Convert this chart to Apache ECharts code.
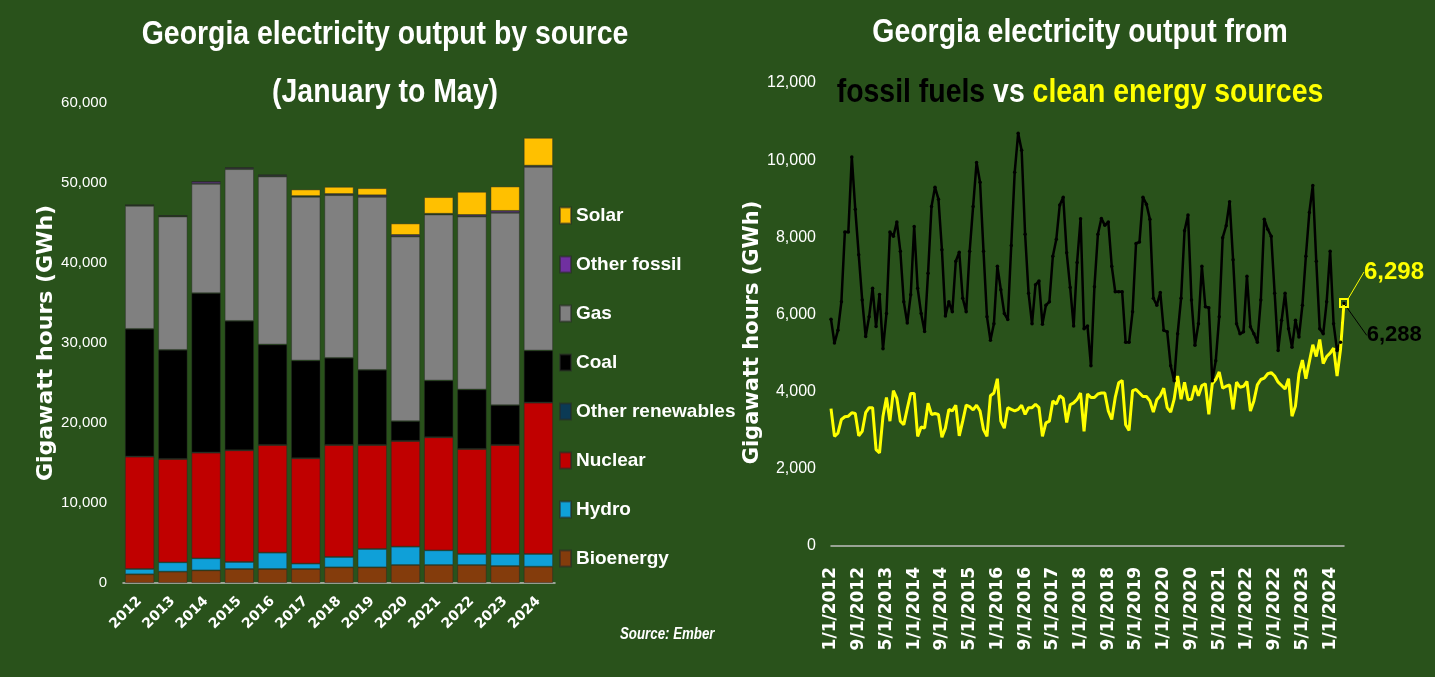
<!DOCTYPE html>
<html>
<head>
<meta charset="utf-8">
<script src="https://cdn.jsdelivr.net/npm/echarts@6.0.0/dist/echarts.min.js"></script>
<style>
  html, body { margin: 0; padding: 0; background: #29521b; }
  #chart { width: 1435px; height: 677px; }
</style>
</head>
<body>
<div id="chart"></div>
<script>
// left chart: Jan-May totals by source (GWh)
const years = ["2012", "2013", "2014", "2015", "2016", "2017", "2018", "2019", "2020", "2021", "2022", "2023", "2024"];
const bioenergy = [1090, 1420, 1580, 1750, 1750, 1750, 1960, 1960, 2250, 2250, 2250, 2125, 2040];
const hydro = [660, 1160, 1500, 875, 2040, 670, 1290, 2290, 2290, 1830, 1375, 1500, 1585];
const nuclear = [14040, 12920, 13210, 13955, 13460, 13160, 14000, 13000, 13210, 14130, 13125, 13625, 18915];
const otherRenewables = [20, 20, 20, 20, 20, 20, 20, 20, 20, 20, 20, 20, 20];
const coal = [15960, 13625, 19920, 16170, 12540, 12210, 10875, 9375, 2460, 7080, 7420, 4960, 6500];
const gas = [15375, 16665, 13665, 18960, 21000, 20460, 20335, 21625, 23080, 20750, 21620, 24040, 22960];
const otherFossil = [100, 100, 250, 150, 150, 100, 150, 200, 200, 100, 200, 250, 150];
const solar = [25, 30, 85, 100, 100, 820, 890, 880, 1430, 2070, 2885, 3040, 3475];

// right chart: monthly output, Jan 2012 - May 2024 (GWh)
const fossil = [
  5880, 5260, 5590, 6330, 8140, 8140, 10085, 8730, 7550, 6375, 5430, 5940,
  6680, 5690, 6520, 5110, 6025, 8140, 8030, 8400, 7640, 6330, 5780, 6510,
  8280, 6680, 6025, 5560, 7070, 8800, 9300, 8990, 7680, 5960, 6330, 6070,
  7380, 7615, 6420, 6070, 7640, 8800, 9940, 9430, 7640, 5940, 5330, 5760,
  7250, 6640, 6025, 5870, 7790, 9690, 10700, 10260, 8080, 6550, 5760, 6770,
  6870, 5750, 6240, 6330, 7510, 7950, 8840, 9040, 7600, 6700, 5700, 7350,
  8480, 5630, 5700, 4670, 6720, 8080, 8490, 8310, 8400, 7250, 6590, 6590,
  6590, 5280, 5280, 6070, 7840, 7880, 9040, 8860, 8470, 6420, 6240, 6570,
  5590, 5550, 4670, 4280, 5500, 6420, 8170, 8580, 6375, 5200, 5760, 7250,
  6200, 6175, 4280, 4800, 5940, 7990, 8300, 8925, 7420, 5760, 5500, 5550,
  6990, 5680, 5500, 5280, 6375, 8470, 8210, 8030, 6550, 5065, 5850, 6550,
  5630, 5150, 5850, 5415, 6240, 7510, 8645, 9345, 7380, 5630, 5500, 6330,
  7640, 5760, 5065, 5280, 6288
];
const clean = [
  3560, 2840, 2925, 3280, 3350, 3365, 3455, 3435, 2855, 2970, 3455, 3585,
  3585, 2500, 2415, 3365, 3850, 3235, 4025, 3825, 3235, 3145, 3560, 3955,
  3955, 2840, 3085, 3055, 3700, 3410, 3435, 3410, 2820, 3055, 3540, 3500,
  3650, 2855, 3235, 3650, 3610, 3525, 3650, 3500, 3015, 2840, 3895, 3965,
  4335, 3235, 3055, 3585, 3540, 3500, 3540, 3650, 3410, 3585, 3585, 3675,
  3585, 2840, 3190, 3235, 3760, 3680, 3895, 3825, 3200, 3660, 3710, 3800,
  3965, 2970, 3940, 3850, 3850, 3940, 3965, 3965, 3500, 3280, 3850, 4230,
  4290, 3145, 2995, 4025, 4055, 3965, 3875, 3875, 3760, 3470, 3790, 3895,
  4090, 3585, 3470, 3805, 4405, 3805, 4245, 3790, 3805, 4160, 3895, 4160,
  4205, 3410, 4205, 4315, 4510, 4090, 4140, 4175, 3540, 4245, 4115, 4140,
  4265, 3500, 3760, 4175, 4315, 4350, 4465, 4495, 4405, 4245, 4160, 4070,
  4335, 3365, 3630, 4465, 4820, 4335, 4775, 5215, 4910, 5350, 4730, 4910,
  5000, 5130, 4405, 5100, 6298
];

const months = [];
for (let i = 0; i < fossil.length; i++) {
  months.push(((i % 12) + 1) + "/1/" + (2012 + Math.floor(i / 12)));
}

const SANS = '"Liberation Sans", Arial, sans-serif';
const WIDE = '"DejaVu Sans", sans-serif';
const fmt = v => v.toLocaleString("en-US");

const barBorder = { borderColor: "rgba(40,40,40,0.55)", borderWidth: 0.8 };
const bar = (name, data, color) => ({
  name, type: "bar", stack: "total", data,
  xAxisIndex: 0, yAxisIndex: 0,
  barCategoryGap: "12%",
  itemStyle: Object.assign({ color }, barBorder),
  emphasis: { disabled: true }
});

// last point of each line gets its own label
const cleanData = clean.map(v => v);
cleanData[cleanData.length - 1] = {
  value: clean[clean.length - 1],
  symbol: "rect", symbolSize: 8,
  itemStyle: { color: "rgba(0,0,0,0)", borderColor: "#ffff00", borderWidth: 2 },
  label: {
    show: true, position: "right", formatter: p => fmt(p.value),
    color: "#ffff00", fontFamily: SANS, fontWeight: "bold", fontSize: 24
  }
};
const fossilData = fossil.map(v => v);
fossilData[fossilData.length - 1] = {
  value: fossil[fossil.length - 1],
  label: {
    show: true, position: "right", formatter: p => fmt(p.value),
    color: "#000", fontFamily: SANS, fontWeight: "bold", fontSize: 22
  }
};

// condensed-looking headings: regular sans squeezed horizontally
const heading = (text, x, y) => ({
  type: "text", x, y, scaleX: 0.836,
  style: { text, fill: "#fff", font: "bold 34px " + SANS, align: "center", verticalAlign: "middle" }
});

const chart = echarts.init(document.getElementById("chart"));
chart.setOption({
  animation: false,
  backgroundColor: "#29521b",
  graphic: [
    heading("Georgia electricity output by source", 385, 35),
    heading("(January to May)", 385, 93),
    heading("Georgia electricity output from", 1080, 33),
    {
      type: "text", x: 1080, y: 93, scaleX: 0.836,
      style: {
        text: "{b|fossil fuels }{w|vs }{y|clean energy sources}",
        align: "center", verticalAlign: "middle",
        rich: {
          b: { fill: "#000", font: "bold 34px " + SANS },
          w: { fill: "#fff", font: "bold 34px " + SANS },
          y: { fill: "#ffff00", font: "bold 34px " + SANS }
        }
      }
    },
    {
      type: "text", x: 620, y: 635, scaleX: 0.83,
      style: { text: "Source: Ember", fill: "#fff", font: "italic bold 16px " + SANS, verticalAlign: "middle" }
    }
  ],
  legend: {
    data: ["Solar", "Other fossil", "Gas", "Coal", "Other renewables", "Nuclear", "Hydro", "Bioenergy"],
    orient: "vertical", left: 559, top: 206, padding: 0,
    itemWidth: 11, itemHeight: 16, itemGap: 30,
    icon: "rect", selectedMode: false,
    textStyle: { color: "#fff", fontFamily: SANS, fontWeight: "bold", fontSize: 19 }
  },
  grid: [
    { left: 123, right: 880, top: 103, bottom: 94 },
    { left: 831, right: 91, top: 83, bottom: 131 }
  ],
  xAxis: [
    {
      gridIndex: 0, type: "category", data: years,
      axisLine: { lineStyle: { color: "#bfbfbf", width: 1.5 } },
      axisTick: { show: false },
      axisLabel: { color: "#fff", rotate: 45, margin: 16, fontFamily: WIDE, fontWeight: "bold", fontSize: 14, interval: 0 }
    },
    {
      gridIndex: 1, type: "category", data: months, boundaryGap: false,
      axisLine: { lineStyle: { color: "#bfbfbf", width: 1.5 } },
      axisTick: { show: false },
      axisLabel: { color: "#fff", rotate: 90, interval: 7, margin: 21, fontFamily: WIDE, fontWeight: "bold", fontSize: 17 }
    }
  ],
  yAxis: [
    {
      gridIndex: 0, type: "value", min: 0, max: 60000, interval: 10000,
      name: "Gigawatt hours (GWh)", nameLocation: "middle", nameGap: 60,
      nameTextStyle: { color: "#fff", fontFamily: WIDE, fontWeight: "bold", fontSize: 22 },
      splitLine: { show: false }, axisLine: { show: false }, axisTick: { show: false },
      axisLabel: { color: "#fff", margin: 16, fontFamily: SANS, fontSize: 15, formatter: fmt }
    },
    {
      gridIndex: 1, type: "value", min: 0, max: 12000, interval: 2000,
      name: "Gigawatt hours (GWh)", nameLocation: "middle", nameGap: 58,
      nameTextStyle: { color: "#fff", fontFamily: WIDE, fontWeight: "bold", fontSize: 21, padding: [0, 36, 0, 0] },
      splitLine: { show: false }, axisLine: { show: false }, axisTick: { show: false },
      axisLabel: { color: "#fff", margin: 15, fontFamily: SANS, fontSize: 16, formatter: fmt }
    }
  ],
  series: [
    bar("Bioenergy", bioenergy, "#843c0c"),
    bar("Hydro", hydro, "#0fa0d8"),
    bar("Nuclear", nuclear, "#c00000"),
    bar("Other renewables", otherRenewables, "#0b3a55"),
    bar("Coal", coal, "#000000"),
    bar("Gas", gas, "#808080"),
    bar("Other fossil", otherFossil, "#7030a0"),
    bar("Solar", solar, "#ffc000"),
    {
      name: "Fossil fuels", type: "line", xAxisIndex: 1, yAxisIndex: 1,
      data: fossilData,
      symbol: "circle", symbolSize: 3.5, showAllSymbol: true,
      itemStyle: { color: "#000" },
      lineStyle: { color: "#000", width: 2.5 },
      labelLayout: { dx: 16, dy: 32 },
      labelLine: { show: true, lineStyle: { color: "#000", width: 1 } },
      emphasis: { disabled: true }
    },
    {
      name: "Clean energy", type: "line", xAxisIndex: 1, yAxisIndex: 1,
      data: cleanData,
      symbol: "none", showAllSymbol: true,
      lineStyle: { color: "#ffff00", width: 3 },
      labelLayout: { dx: 10, dy: -31 },
      labelLine: { show: true, lineStyle: { color: "#ffff00", width: 1 } },
      emphasis: { disabled: true }
    }
  ]
});
</script>
</body>
</html>
